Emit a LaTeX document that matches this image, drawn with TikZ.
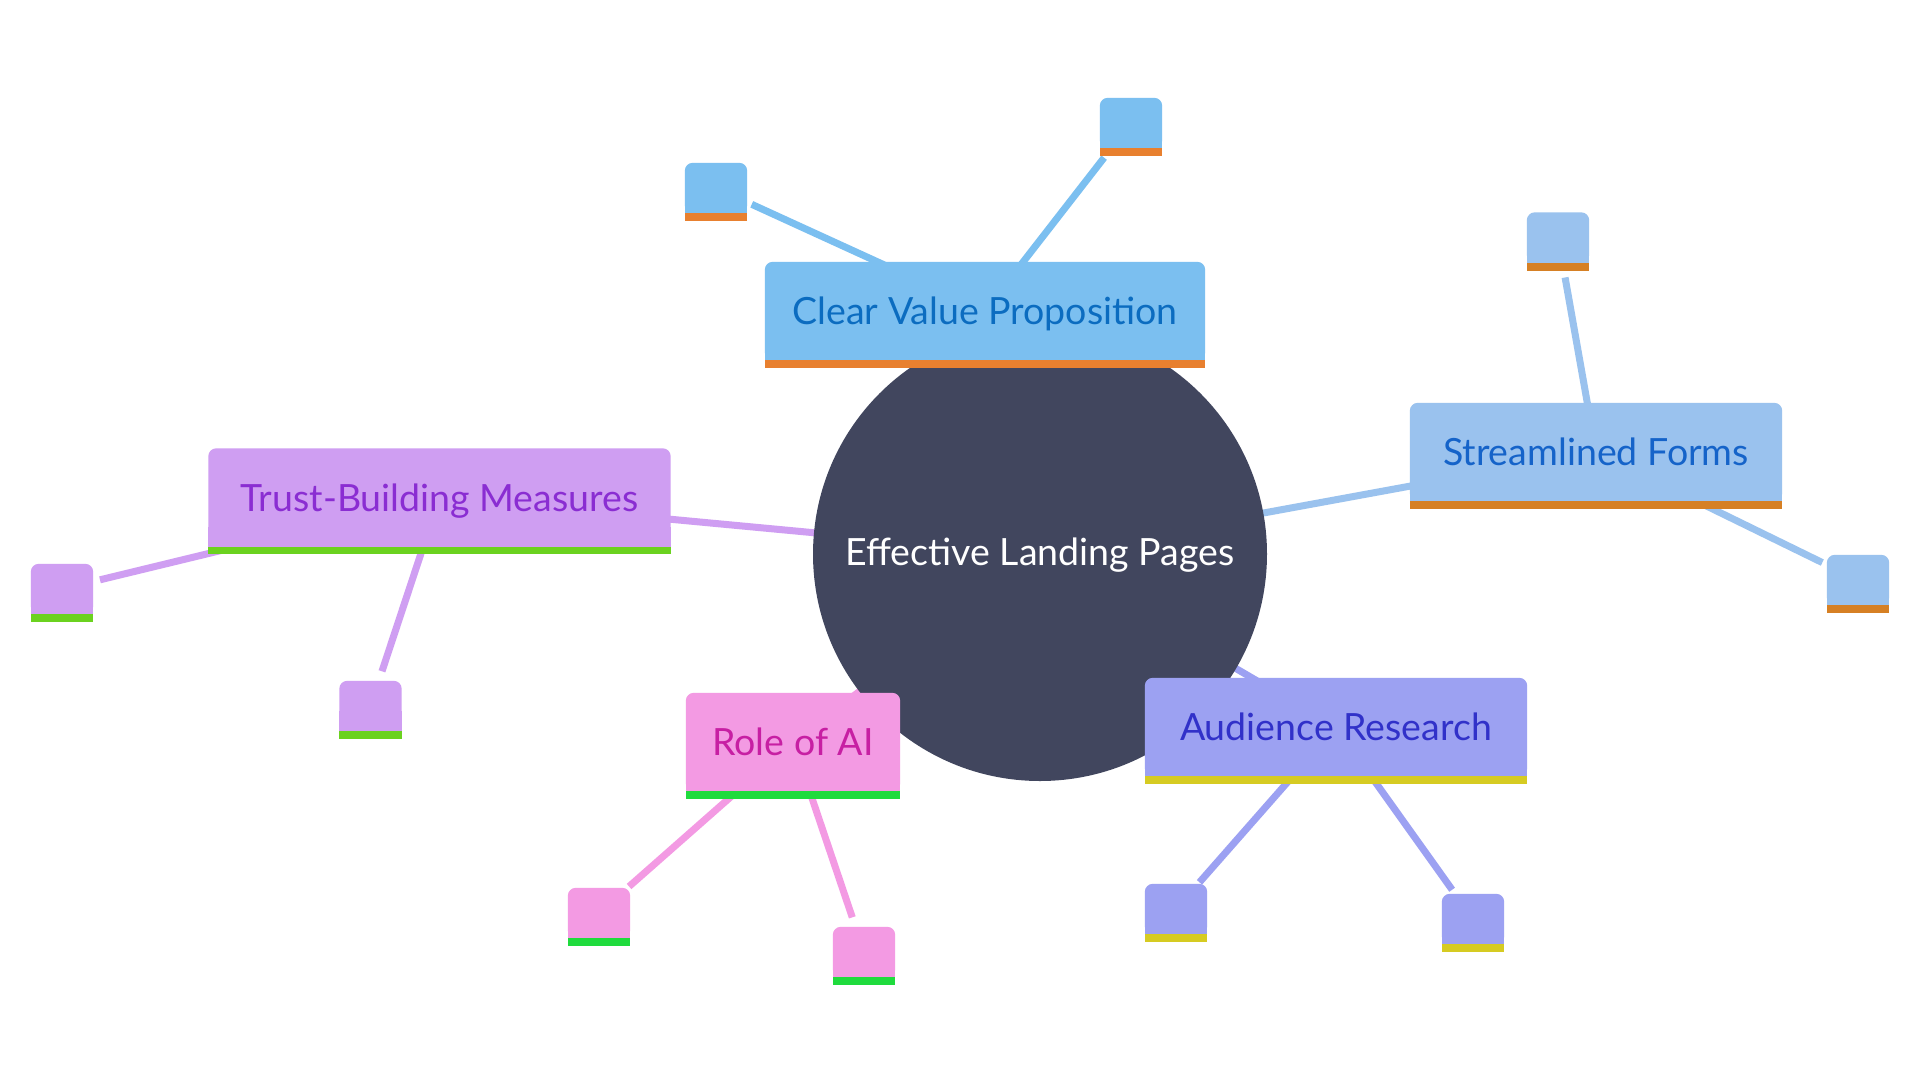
\documentclass[tikz,border=0pt]{standalone}
\usepackage{fontspec}
\setmainfont{Lato}
\usetikzlibrary{calc}
\pgfdeclarelayer{bg}
\pgfdeclarelayer{edges}
\pgfdeclarelayer{shapes}
\pgfsetlayers{bg,edges,shapes,main}

\definecolor{hubF}{HTML}{41465E}
\definecolor{cvpF}{HTML}{7BBFF0}
\definecolor{cvpB}{HTML}{E8802F}
\definecolor{cvpT}{HTML}{0B6CC0}
\definecolor{sfF}{HTML}{9AC2EE}
\definecolor{sfB}{HTML}{D68024}
\definecolor{sfT}{HTML}{1563C9}
\definecolor{tbF}{HTML}{CF9EF2}
\definecolor{tbB}{HTML}{6BD21F}
\definecolor{tbT}{HTML}{8A2DD2}
\definecolor{aiF}{HTML}{F39AE3}
\definecolor{aiB}{HTML}{1FDB3D}
\definecolor{aiT}{HTML}{C71FA3}
\definecolor{arF}{HTML}{9CA1F2}
\definecolor{arB}{HTML}{D6CB22}
\definecolor{arT}{HTML}{3131C9}

\tikzset{
  lbl/.style={inner sep=0pt, font=\fontsize{37.5}{45}\selectfont},
  boxnode/.style={lbl, rectangle, minimum height=98pt, text height=27pt, text depth=0pt},
  leafnode/.style={rectangle, inner sep=0pt, minimum width=62pt, minimum height=50pt},
  edge/.style={line width=7pt, line cap=butt},
}

\newcommand\boxshape[4]{%
  \fill[#2, rounded corners=8pt] (#1.north west) rectangle (#1.south east);
  \fill[#2] ([yshift=20pt]#1.south west) rectangle (#1.south east);
  \fill[#3] (#1.south west) rectangle ([yshift=-#4]#1.south east);
}

\begin{document}
\begin{tikzpicture}[x=1pt,y=-1pt]
\begin{pgfonlayer}{bg}
  \fill[white] (0,0) rectangle (1920,1080);
\end{pgfonlayer}
\useasboundingbox (0,0) rectangle (1920,1080);

% central hub
\begin{pgfonlayer}{shapes}
  \node[lbl, circle, fill=hubF, minimum size=454pt, text=white, text height=27pt, text depth=4pt] (hub) at (1040,554) {Effective Landing Pages};
\end{pgfonlayer}

% branch nodes
\node[boxnode, minimum width=440pt, text=cvpT] (cvp) at (985,311) {Clear Value Proposition};
\node[boxnode, minimum width=372pt, text=sfT] (sf) at (1596,452) {Streamlined Forms};
\node[boxnode, minimum width=462pt, text=tbT] (tb) at (439.5,497.5) {Trust-Building Measures};
\node[boxnode, minimum width=214pt, text=aiT] (ai) at (793,742) {Role of AI};
\node[boxnode, minimum width=382pt, text=arT] (ar) at (1336,727) {Audience Research};

% leaves
\node[leafnode] (cvpL) at (716,188) {};
\node[leafnode] (cvpR) at (1131,123) {};
\node[leafnode] (sfT) at (1558,237.5) {};
\node[leafnode] (sfR) at (1858,580) {};
\node[leafnode] (tbL) at (62,589) {};
\node[leafnode] (tbD) at (370.5,706) {};
\node[leafnode] (aiL) at (599,913) {};
\node[leafnode] (aiR) at (864,952) {};
\node[leafnode] (arL) at (1176,909) {};
\node[leafnode] (arR) at (1473,919) {};

\begin{pgfonlayer}{shapes}
  \boxshape{cvp}{cvpF}{cvpB}{7.5pt}
  \boxshape{sf}{sfF}{sfB}{7.5pt}
  \boxshape{tb}{tbF}{tbB}{7.5pt}
  \boxshape{ai}{aiF}{aiB}{7.5pt}
  \boxshape{ar}{arF}{arB}{7.5pt}
  \boxshape{cvpL}{cvpF}{cvpB}{8pt}
  \boxshape{cvpR}{cvpF}{cvpB}{8pt}
  \boxshape{sfT}{sfF}{sfB}{8pt}
  \boxshape{sfR}{sfF}{sfB}{8pt}
  \boxshape{tbL}{tbF}{tbB}{8pt}
  \boxshape{tbD}{tbF}{tbB}{8pt}
  \boxshape{aiL}{aiF}{aiB}{8pt}
  \boxshape{aiR}{aiF}{aiB}{8pt}
  \boxshape{arL}{arF}{arB}{8pt}
  \boxshape{arR}{arF}{arB}{8pt}
\end{pgfonlayer}

\begin{pgfonlayer}{edges}
  \draw[edge, cvpF] (hub.center) -- (cvp.center);
  \draw[edge, sfF] (hub.center) -- (sf.center);
  \draw[edge, tbF] (hub.center) -- (tb.center);
  \draw[edge, aiF] (hub.center) -- (ai.center);
  \draw[edge, arF] (hub.center) -- (ar.center);
  \draw[edge, cvpF, shorten >=5pt] (cvp.center) -- (cvpL);
  \draw[edge, cvpF, shorten >=12pt] (cvp.center) -- (cvpR);
  \draw[edge, sfF, shorten >=15pt] (sf.center) -- (sfT);
  \draw[edge, sfF, shorten >=5pt] (sf.center) -- (sfR);
  \draw[edge, tbF, shorten >=7pt] (tb.center) -- (tbL);
  \draw[edge, tbF, shorten >=10pt] (tb.center) -- (tbD);
  \draw[edge, aiF, shorten >=2pt] (ai.center) -- (aiL);
  \draw[edge, aiF, shorten >=10pt] (ai.center) -- (aiR);
  \draw[edge, arF, shorten >=2pt] (ar.center) -- (arL);
  \draw[edge, arF, shorten >=5pt] (ar.center) -- (arR);
\end{pgfonlayer}
\end{tikzpicture}
\end{document}
